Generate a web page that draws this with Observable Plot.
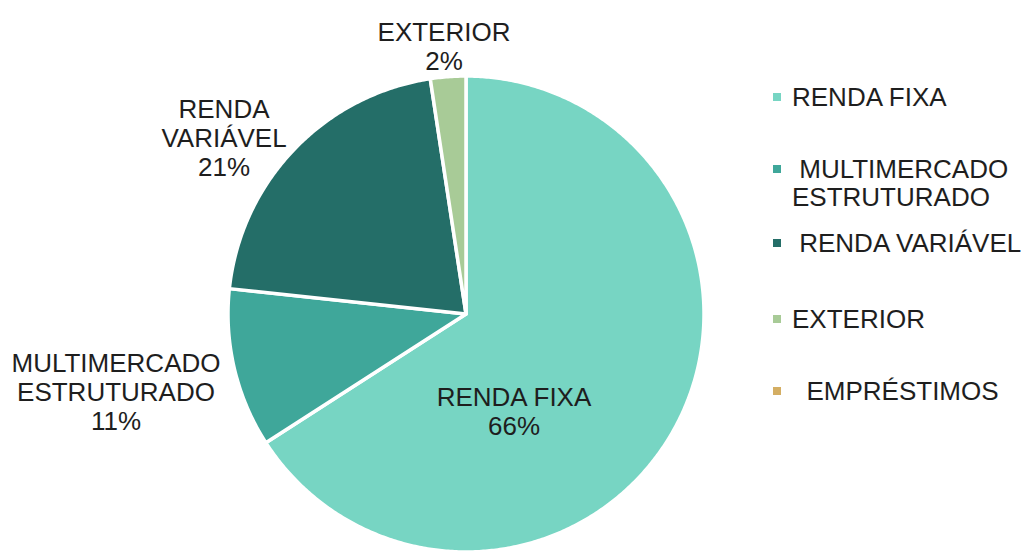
<!DOCTYPE html>
<html>
<head>
<meta charset="utf-8">
<script src="https://cdn.jsdelivr.net/npm/d3@7"></script>
<script src="https://cdn.jsdelivr.net/npm/@observablehq/plot@0.6"></script>
<style>
html, body { margin: 0; padding: 0; background: #fff; }
#wrap { position: relative; width: 1032px; height: 552px; overflow: hidden; font-family: "Liberation Sans", Arial, sans-serif; }
#chart { position: absolute; left: 0; top: 0; }
.item { position: absolute; font-size: 26px; line-height: 28px; color: #1e1e1e; white-space: pre; }
.sw { position: absolute; width: 8px; height: 8px; }
</style>
</head>
<body>
<div id="wrap">
  <div id="chart"></div>
  <div id="legend"></div>
</div>
<script>
// ---- data ----
const categories = ["RENDA FIXA", "MULTIMERCADO ESTRUTURADO", "RENDA VARIÁVEL", "EXTERIOR", "EMPRÉSTIMOS"];
const shares = [65.9, 10.8, 20.9, 2.4, 0];
const sliceLabels = ["RENDA FIXA", "MULTIMERCADO\nESTRUTURADO", "RENDA\nVARIÁVEL", "EXTERIOR", ""];
const legendLabels = ["RENDA FIXA", " MULTIMERCADO\nESTRUTURADO", " RENDA VARIÁVEL", "EXTERIOR", "  EMPRÉSTIMOS"];
const colors = ["#77D5C3", "#3FA79A", "#246E68", "#A8CB97", "#D4AE63"];

// ---- layout ----
const W = 1032, H = 552;
const cx = 465.5, cy = 313.5, R = 238;
// label block centres, offsets from pie centre in pixels
const labelOffsets = [[48, 97], [-350, 78], [-242, -176], [-22, -268], null];
const legendTops = [83, 155, 229, 305, 377];

// ---- pie geometry (unit radius, clockwise from 12 o'clock) ----
const table = categories.map((c, i) => ({cat: c, share: shares[i], label: sliceLabels[i], i}));
const arcs = d3.pie().sort(null).value(d => d.share)(table);
const pts = [];
for (const a of arcs) {
  if (a.endAngle - a.startAngle <= 0) continue;
  const cat = a.data.cat;
  pts.push({cat, x: 0, y: 0});
  const n = Math.max(2, Math.ceil((a.endAngle - a.startAngle) / (Math.PI / 360)));
  for (let k = 0; k <= n; k++) {
    const t = a.startAngle + (a.endAngle - a.startAngle) * k / n;
    pts.push({cat, x: Math.sin(t), y: Math.cos(t)});
  }
}

const labels = table.filter((d, i) => labelOffsets[i] && d.label).map(d => ({
  text: d.label + "\n" + Math.round(d.share) + "%",
  x: labelOffsets[d.i][0] / R,
  y: -labelOffsets[d.i][1] / R
}));

const plot = Plot.plot({
  width: W,
  height: H,
  margin: 0,
  style: {fontFamily: "'Liberation Sans', Arial, sans-serif", background: "transparent"},
  x: {domain: [-cx / R, (W - cx) / R], range: [0, W], axis: null},
  y: {domain: [-(H - cy) / R, cy / R], range: [H, 0], axis: null},
  color: {domain: categories, range: colors, legend: false},
  marks: [
    Plot.line(pts, {x: "x", y: "y", z: "cat", fill: "cat", stroke: "white", strokeWidth: 3.5, strokeLinejoin: "round", curve: "linear-closed"}),
    Plot.text(labels, {x: "x", y: "y", text: "text", fontSize: 26, lineHeight: 1.12, lineAnchor: "middle", textAnchor: "middle", fill: "#1e1e1e"})
  ]
});
document.getElementById("chart").appendChild(plot);

// ---- legend ----
const leg = document.getElementById("legend");
categories.forEach((c, i) => {
  const sw = document.createElement("div");
  sw.className = "sw";
  sw.style.left = "773px";
  sw.style.top = (legendTops[i] + 10) + "px";
  sw.style.background = colors[i];
  leg.appendChild(sw);
  const it = document.createElement("div");
  it.className = "item";
  it.style.left = "792px";
  it.style.top = legendTops[i] + "px";
  it.textContent = legendLabels[i];
  leg.appendChild(it);
});
</script>
</body>
</html>
